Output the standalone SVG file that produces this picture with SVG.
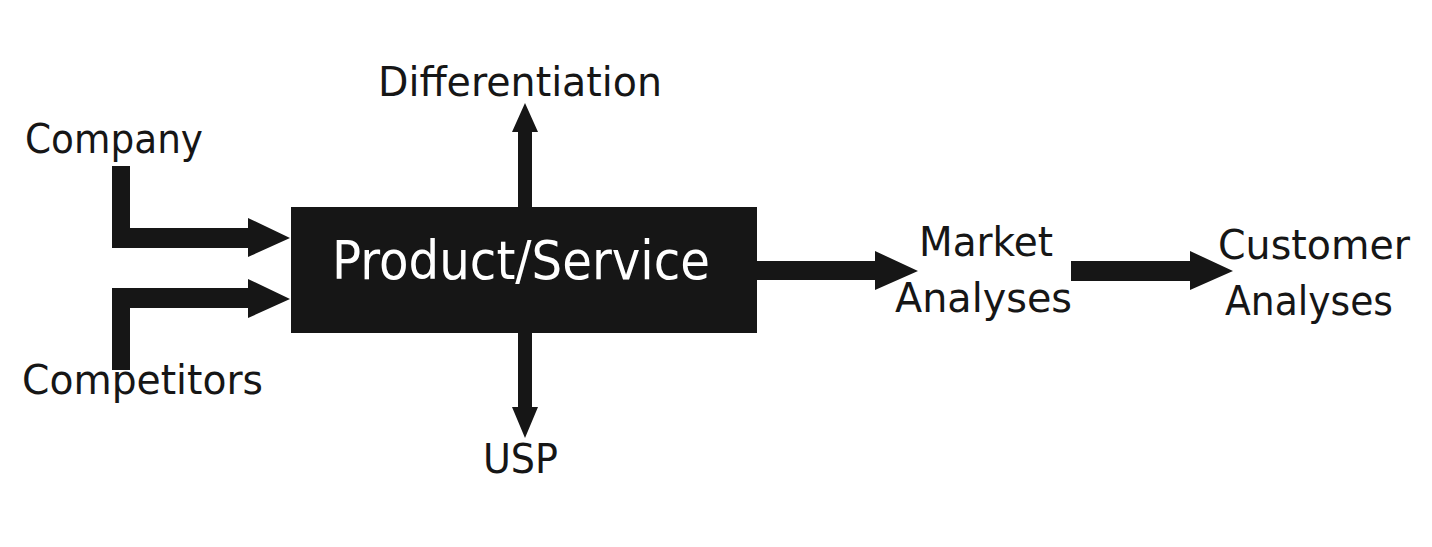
<svg xmlns="http://www.w3.org/2000/svg" width="1432" height="547" viewBox="0 0 1432 547">
<style>
.lbl{font-family:"DejaVu Sans","Liberation Sans",sans-serif;font-size:41px;fill:#161616}
.main{font-family:"DejaVu Sans","Liberation Sans",sans-serif;font-size:53px;fill:#ffffff}
.arr{fill:#161616}
</style>
<rect width="1432" height="547" fill="#ffffff"/>
<g id="connectors">
<path class="arr" d="M112,166 H130 V228 H248 V218 L290,238 L248,257 V248 H112 Z"/>
<path class="arr" d="M112,370 H130 V308 H248 V318 L290,299 L248,279 V288 H112 Z"/>
<path class="arr" d="M518,207 V132 H512 L525,103 L538,132 H532 V207 Z"/>
<path class="arr" d="M518,333 V407 H512 L525,438 L538,407 H532 V333 Z"/>
<path class="arr" d="M757,261 H875 V251 L918,271 L875,290 V280 H757 Z"/>
<path class="arr" d="M1071,261 H1190 V251 L1233,271 L1190,290 V281 H1071 Z"/>
</g>
<g id="product">
<rect x="291" y="207" width="466" height="126" fill="#161616"/>
<text class="main" x="332" y="279" textLength="378" lengthAdjust="spacingAndGlyphs">Product/Service</text>
</g>
<g id="differentiation"><text class="lbl" x="378" y="96" textLength="284" lengthAdjust="spacingAndGlyphs">Differentiation</text></g>
<g id="company"><text class="lbl" x="25" y="153" textLength="178" lengthAdjust="spacingAndGlyphs">Company</text></g>
<g id="competitors"><text class="lbl" x="22" y="394" textLength="241" lengthAdjust="spacingAndGlyphs">Competitors</text></g>
<g id="usp"><text class="lbl" x="483" y="473" textLength="75" lengthAdjust="spacingAndGlyphs">USP</text></g>
<g id="market">
<text class="lbl" x="919" y="256" textLength="134" lengthAdjust="spacingAndGlyphs">Market</text>
<text class="lbl" x="895" y="312" textLength="177" lengthAdjust="spacingAndGlyphs">Analyses</text>
</g>
<g id="customer">
<text class="lbl" x="1218" y="259" textLength="192" lengthAdjust="spacingAndGlyphs">Customer</text>
<text class="lbl" x="1225" y="315" textLength="168" lengthAdjust="spacingAndGlyphs">Analyses</text>
</g>
</svg>
